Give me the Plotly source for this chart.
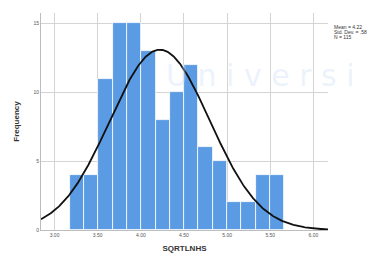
import numpy as np
import plotly.graph_objects as go

# Data
bin_start = 3.178
bin_width = 0.1655
counts = [4, 4, 11, 15, 15, 13, 8, 10, 12, 6, 5, 2, 2, 4, 4]
mean = 4.22
sd = 0.58
n = 115
stats_lines = ["Mean = 4.22", "Std. Dev. = .58", "N = 115"]
x_ticks = [3.0, 3.5, 4.0, 4.5, 5.0, 5.5, 6.0]
x_tick_labels = ["3.00", "3.50", "4.00", "4.50", "5.00", "5.50", "6.00"]
y_ticks = [0, 5, 10, 15]

x_range = [2.843, 6.169]
y_range = [0, 15.76]

centers = [bin_start + bin_width * (i + 0.5) for i in range(len(counts))]

xs = np.linspace(x_range[0], x_range[1], 400)
ys = n * bin_width / (sd * np.sqrt(2 * np.pi)) * np.exp(-0.5 * ((xs - mean) / sd) ** 2)

fig = go.Figure()
fig.add_trace(go.Bar(
    x=centers, y=counts, width=bin_width,
    marker=dict(color="#5b9be3", line=dict(color="white", width=0.8)),
    hoverinfo="x+y"
))
fig.add_trace(go.Scatter(
    x=xs, y=ys, mode="lines",
    line=dict(color="#111111", width=1.8), hoverinfo="skip"
))

# faint watermark
fig.add_annotation(xref="paper", yref="paper", x=0.43, y=0.80, text="U n i v e r s i",
                   showarrow=False, xanchor="left",
                   font=dict(family="DejaVu Sans", size=30, color="rgba(200,220,245,0.35)"))

for i, line in enumerate(stats_lines):
    fig.add_annotation(xref="paper", yref="paper", x=1.0, y=0.935, yshift=-5 * i,
                       xshift=4, text=line, showarrow=False,
                       xanchor="left", yanchor="middle", align="left",
                       font=dict(family="Liberation Sans", size=5, color="#333333"))

fig.update_layout(
    width=371, height=257,
    margin=dict(l=41, r=43, t=13, b=27),
    paper_bgcolor="white", plot_bgcolor="white",
    showlegend=False, bargap=0,
    font=dict(family="Liberation Sans", color="#333333"),
)
fig.update_xaxes(
    range=x_range, tickvals=x_ticks, ticktext=x_tick_labels, automargin=False,
    tickfont=dict(size=5, color="#555555"), ticks="", ticklen=0,
    showgrid=True, gridcolor="#d4d4d4", gridwidth=1,
    showline=True, linecolor="#bdbdbd", linewidth=1, zeroline=False,
    title=dict(text="<b>SQRTLNHS</b>", font=dict(size=8, color="#333333"), standoff=8),
)
fig.update_yaxes(
    range=y_range, tickvals=y_ticks, automargin=False,
    tickfont=dict(size=5, color="#555555"), ticks="",
    showgrid=True, gridcolor="#d4d4d4", gridwidth=1,
    showline=True, linecolor="#bdbdbd", linewidth=1, zeroline=False,
    title=dict(text="<b>Frequency</b>", font=dict(size=8, color="#333333"), standoff=12),
)

fig.write_html("out.html", config={"displayModeBar": False},
               post_script="document.body.style.margin='0';")
